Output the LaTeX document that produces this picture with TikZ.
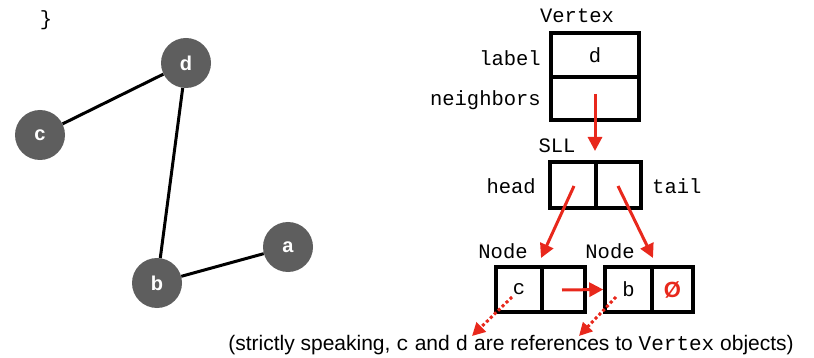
\documentclass[tikz,border=0pt]{standalone}
\usepackage{fontspec}
\setmainfont{Liberation Sans}
\newfontfamily\monof{Liberation Mono}
\usetikzlibrary{arrows.meta}
\definecolor{vgray}{HTML}{5E5E5E}
\definecolor{ared}{HTML}{E8281C}
\begin{document}
\begin{tikzpicture}[x=1pt,y=-1pt,
  vtx/.style={circle,fill=vgray,minimum size=50pt,inner sep=0pt,text=white,font=\fontsize{20}{20}\selectfont\bfseries},
  edge/.style={line width=3pt,black},
  cell/.style={draw=black,line width=3.5pt,inner sep=0pt,font=\monof\fontsize{20.5}{20.5}\selectfont},
  mono/.style={inner sep=0pt,font=\monof\fontsize{20.5}{20.5}\selectfont},
  rarrow/.style={ared,line width=3pt,-{Triangle[length=14pt,width=14pt]}},
  rdot/.style={ared,line width=3pt,dash pattern=on 3pt off 2.5pt,-{Triangle[length=13pt,width=13pt]}}]
\useasboundingbox (0,0) rectangle (814,358);
% graph
\node[mono] (brace) at (46,20) {\}};
\node[vtx] (d) at (186,63) {d};
\node[vtx] (c) at (40,135) {c};
\node[vtx] (a) at (288,247) {a};
\node[vtx] (b) at (157,283) {b};
\draw[edge] (c) -- (d);
\draw[edge] (d) -- (b);
\draw[edge] (b) -- (a);
% Vertex
\node[mono] (vt) at (577,16) {Vertex};
\node[cell,minimum width=88pt,minimum height=44pt] (vl) at (595,55) {d};
\node[cell,minimum width=88pt,minimum height=43pt] (vn) at (595,98.5) {};
\node[mono,anchor=east] (lab) at (541,58) {label};
\node[mono,anchor=east] (nei) at (541,100) {neighbors};
% SLL
\node[mono] (sll) at (557,146) {SLL};
\node[cell,minimum width=46pt,minimum height=46pt] (sh) at (573,185) {};
\node[cell,minimum width=45pt,minimum height=46pt] (st) at (618.5,185) {};
\node[mono,anchor=east] (head) at (536,186) {head};
\node[mono,anchor=west] (tail) at (652,186) {tail};
% Nodes
\node[mono] (nd1) at (503,251) {Node};
\node[mono] (nd2) at (610,251) {Node};
\node[cell,minimum width=46pt,minimum height=45pt] (n1a) at (519,289.5) {c};
\node[cell,minimum width=43pt,minimum height=45pt] (n1b) at (563.5,289.5) {};
\node[cell,minimum width=47pt,minimum height=45pt] (n2a) at (628.5,289.5) {b};
\node[cell,minimum width=41pt,minimum height=45pt,text=ared,font=\fontsize{22}{22}\selectfont\bfseries] (n2b) at (672.5,289.5) {Ø};
% arrows
\coordinate (vs) at (595,94);
\coordinate (ve) at (595,151);
\draw[rarrow] (vs) -- (ve);
\coordinate (hs) at (574,186);
\coordinate (he) at (541,258);
\draw[rarrow] (hs) -- (he);
\coordinate (ts) at (618,186);
\coordinate (te) at (653,258);
\draw[rarrow] (ts) -- (te);
\coordinate (ns) at (562,290);
\draw[rarrow] (ns) -- (n2a.west);
\coordinate (d1s) at (512,297);
\coordinate (d1e) at (472,336);
\draw[rdot] (d1s) -- (d1e);
\coordinate (d2s) at (616,297);
\coordinate (d2e) at (579,336);
\draw[rdot] (d2s) -- (d2e);
% caption
\node[inner sep=0pt,font=\fontsize{21}{21}\selectfont] (cap) at (511,345) {(strictly speaking, {\monof c} and {\monof d} are references to {\monof Vertex} objects)};
\end{tikzpicture}
\end{document}
